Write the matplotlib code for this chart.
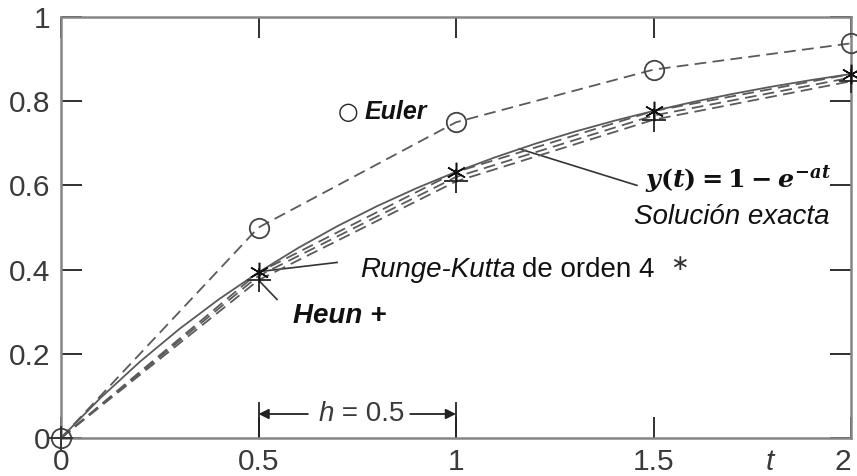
import matplotlib
matplotlib.use("Agg")
import matplotlib.pyplot as plt
from matplotlib import font_manager

# --- data -------------------------------------------------------------
# exact solution y(t) = 1 - exp(-a t), a = 1, sampled along t
t_exact = [0.0, 0.1, 0.2, 0.3, 0.4, 0.5, 0.6, 0.7, 0.8, 0.9, 1.0,
           1.1, 1.2, 1.3, 1.4, 1.5, 1.6, 1.7, 1.8, 1.9, 2.0]
y_exact = [0.0, 0.0952, 0.1813, 0.2592, 0.3297, 0.3935, 0.4512, 0.5034,
           0.5507, 0.5934, 0.6321, 0.6671, 0.6988, 0.7275, 0.7534, 0.7769,
           0.7981, 0.8173, 0.8347, 0.8504, 0.8647]

# numerical solutions with step h = 0.5
t_steps = [0.0, 0.5, 1.0, 1.5, 2.0]
y_euler = [0.0, 0.5, 0.75, 0.875, 0.9375]
y_heun = [0.0, 0.375, 0.6094, 0.7559, 0.8474]
y_rk4 = [0.0, 0.3932, 0.6318, 0.7766, 0.8645]
y_mid = [0.0, 0.385, 0.620, 0.766, 0.856]

x_ticks = [0, 0.5, 1, 1.5, 2]
x_tick_labels = ["0", "0.5", "1", "1.5", "2"]
y_ticks = [0, 0.2, 0.4, 0.6, 0.8, 1]
y_tick_labels = ["0", "0.2", "0.4", "0.6", "0.8", "1"]

# --- style ------------------------------------------------------------
names = {f.name for f in font_manager.fontManager.ttflist}
sans = "Liberation Sans" if "Liberation Sans" in names else "DejaVu Sans"
plt.rcParams["font.family"] = [sans, "DejaVu Sans"]
plt.rcParams["mathtext.fontset"] = "custom"
plt.rcParams["mathtext.rm"] = "DejaVu Serif:bold"
plt.rcParams["mathtext.it"] = "DejaVu Serif:italic:bold"
plt.rcParams["mathtext.bf"] = "DejaVu Serif:bold"

line_c = "#5a5a5a"
dash = (0, (6.5, 3.5))
tick_c = "#3a3a3a"
ink = "#222222"
FS = 20
TFS = 21.5

fig = plt.figure(figsize=(8.57, 4.76), dpi=100)
ax = fig.add_axes([61 / 857, 38 / 476, 790 / 857, 421 / 476])
ax.set_xlim(0, 2)
ax.set_ylim(0, 1)

for s in ax.spines.values():
    s.set_color("#858585")
    s.set_linewidth(1.8)

ax.set_xticks(x_ticks)
ax.set_xticklabels(x_tick_labels)
ax.set_yticks(y_ticks)
ax.set_yticklabels(y_tick_labels)
ax.tick_params(direction="in", length=15, width=1.4, color="#303030",
               labelsize=TFS, labelcolor=tick_c, top=True, right=True)
ax.tick_params(axis="x", pad=7)
ax.tick_params(axis="y", pad=8)
# keep the last x label inside the figure edge
ax.get_xticklabels()[-1].set_horizontalalignment("right")

# curves
ax.plot(t_exact, y_exact, color=line_c, lw=1.3, zorder=3)
ax.plot(t_steps, y_rk4, color=line_c, lw=1.3, ls=dash, zorder=3)
ax.plot(t_steps, y_mid, color=line_c, lw=1.3, ls=dash, zorder=3)
ax.plot(t_steps, y_heun, color=line_c, lw=1.3, ls=dash, zorder=3)
ax.plot(t_steps, y_euler, color=line_c, lw=1.3, ls=dash, zorder=3)

# markers
ax.plot(t_steps, y_euler, ls="none", marker="o", ms=14, mfc="none",
        mec="#444444", mew=1.3, zorder=4, clip_on=False)
ax.plot(t_steps, y_heun, ls="none", marker="+", ms=17, mec="#333333",
        mew=1.4, zorder=4, clip_on=False)
ax.plot(t_steps[1:], y_rk4[1:], ls="none", marker=(6, 2, 0), ms=14,
        mec="#111111", mew=1.1, zorder=5, clip_on=False)

# Euler label
ax.text(0.726, 0.774, "\u25CB", fontsize=17, family="DejaVu Sans",
        ha="center", va="center", color=ink)
ax.text(0.769, 0.774, "Euler", fontsize=18, style="italic",
        weight="bold", va="center", color="#111111")

# Runge-Kutta label
ax.plot([0.5, 0.699], [0.395, 0.417], color="#333333", lw=1.2)
rk = ax.text(0.757, 0.398, "Runge-Kutta", fontsize=FS, style="italic",
             va="center", color="#111111")
rk2 = ax.annotate("de orden 4", xy=(1, 0), xycoords=rk, xytext=(5, 0),
                  textcoords="offset points", fontsize=FS, va="bottom",
                  color="#111111")
ax.annotate("\u2217", xy=(1, 0.35), xycoords=rk2, xytext=(11, 0),
            textcoords="offset points", fontsize=16, va="bottom",
            family="DejaVu Sans", color="#333333")

# Heun label
ax.plot([0.5, 0.547], [0.375, 0.329], color="#333333", lw=1.2)
ax.text(0.587, 0.290, "Heun +", fontsize=FS, style="italic",
        weight="bold", va="center", color="#111111")

# exact solution label
ax.plot([1.16, 1.458], [0.687, 0.600], color="#333333", lw=1.2)
ax.text(1.478, 0.612, r"$y(t) = 1 - e^{-at}$", fontsize=18.3,
        va="center", color="#111111")
ax.text(1.945, 0.524, "Solución exacta", fontsize=FS, style="italic",
        ha="right", va="center", color="#111111")

# step width marker
ax.plot([0.5, 0.5], [0, 0.083], color=ink, lw=1.3)
ax.plot([1.0, 1.0], [0, 0.083], color=ink, lw=1.3)
ax.annotate("", xy=(0.5, 0.057), xytext=(0.625, 0.057),
            arrowprops=dict(arrowstyle="-|>", color=ink, lw=1.3,
                            mutation_scale=15, shrinkA=0, shrinkB=0))
ax.annotate("", xy=(1.0, 0.057), xytext=(0.884, 0.057),
            arrowprops=dict(arrowstyle="-|>", color=ink, lw=1.3,
                            mutation_scale=15, shrinkA=0, shrinkB=0))
ax.text(0.691, 0.057, "h", fontsize=FS, style="italic", va="center",
        ha="right", color=tick_c)
ax.text(0.691, 0.057, " = 0.5", fontsize=FS, va="center", ha="left",
        color=tick_c)

# axis variable
ax.annotate("t", xy=(1.795, 0), xycoords="data", xytext=(0, -7),
            textcoords="offset points", fontsize=TFS, style="italic",
            ha="center", va="top", color=tick_c)

fig.savefig("out.png", dpi=100)
